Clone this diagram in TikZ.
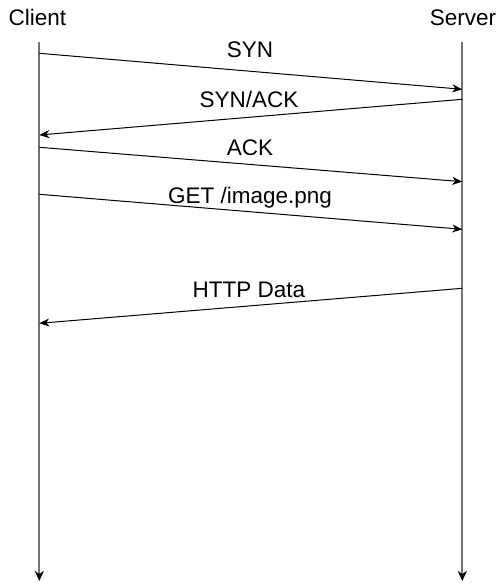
\documentclass[tikz,border=0pt]{standalone}
\usepackage{fontspec}
\setmainfont{Liberation Sans}
\usetikzlibrary{arrows.meta}
\begin{document}
\begin{tikzpicture}[x=1pt,y=-1pt,
  lbl/.style={font=\fontsize{22.5}{27}\selectfont, inner sep=0pt, anchor=base},
  life/.style={draw=black!55, line width=2pt, -{Stealth[length=10pt,width=9pt,inset=3pt,black]}},
  msg/.style={draw=black, line width=1pt, -{Stealth[length=10pt,width=8pt,inset=3pt]}}]
\useasboundingbox (0,0) rectangle (500,583);
% lifeline heads
\node[lbl] (client) at (37.5,26) {Client};
\node[lbl] (server) at (463,26) {Server};
\coordinate (ctop) at (39.3,42);
\coordinate (cbot) at (39.3,581);
\coordinate (stop) at (462.3,42);
\coordinate (sbot) at (462.3,581);
\draw[life] (ctop) -- (cbot);
\draw[life] (stop) -- (sbot);
% message end points
\coordinate (c1) at (39.3,53.3);   \coordinate (s1) at (462.3,89.3);
\coordinate (s2) at (462.3,99.3);  \coordinate (c2) at (39.3,135);
\coordinate (c3) at (39.3,147.3);  \coordinate (s3) at (462.3,181.7);
\coordinate (c4) at (39.3,194.3);  \coordinate (s4) at (462.3,229.3);
\coordinate (s5) at (462.3,288.3); \coordinate (c5) at (39.3,323.3);
\draw[msg] (c1) -- (s1);
\draw[msg] (s2) -- (c2);
\draw[msg] (c3) -- (s3);
\draw[msg] (c4) -- (s4);
\draw[msg] (s5) -- (c5);
% labels
\node[lbl] (l1) at (250,58) {SYN};
\node[lbl] (l2) at (249,107) {SYN/ACK};
\node[lbl] (l3) at (250,155) {ACK};
\node[lbl] (l4) at (250,203) {GET /image.png};
\node[lbl] (l5) at (249,297) {HTTP Data};
\end{tikzpicture}
\end{document}
